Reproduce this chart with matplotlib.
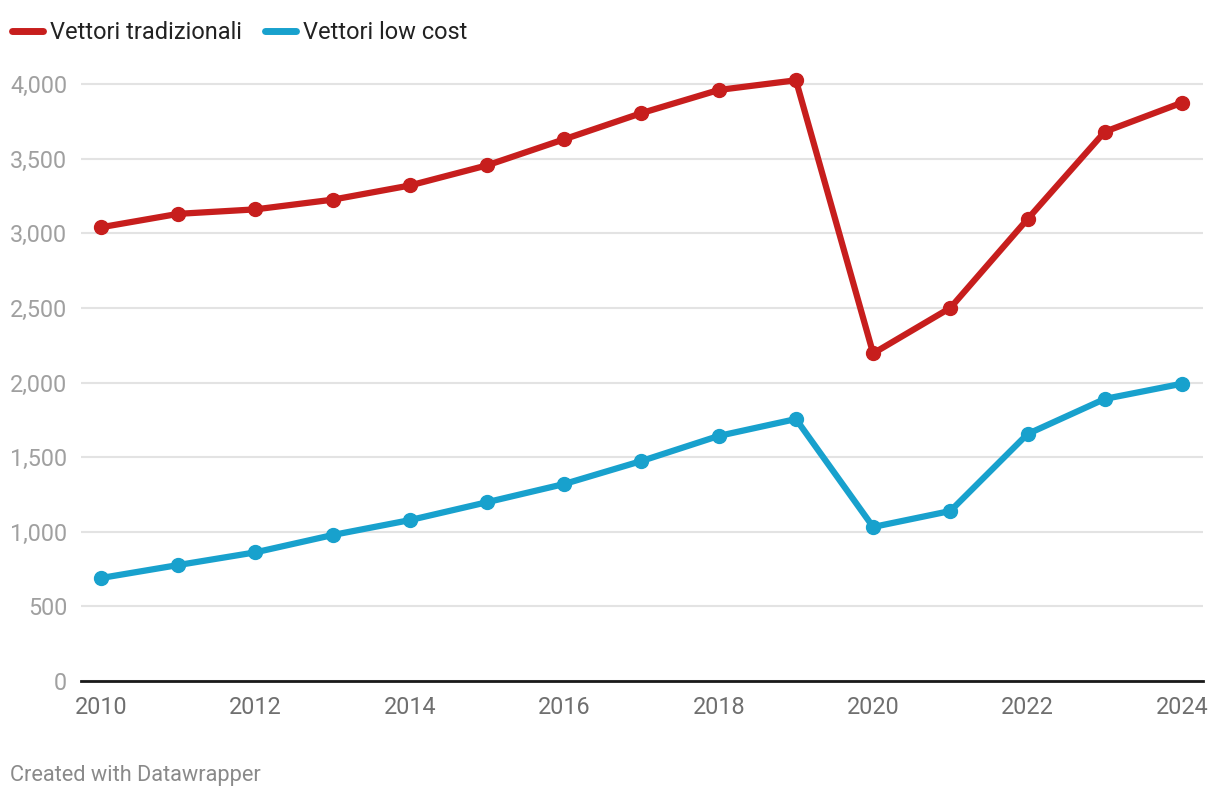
import matplotlib as mpl
import matplotlib.pyplot as plt
from matplotlib.ticker import FuncFormatter

mpl.rcParams['font.family'] = ['Roboto', 'DejaVu Sans']

# dati
anni = [2010, 2011, 2012, 2013, 2014, 2015, 2016, 2017, 2018, 2019, 2020, 2021, 2022, 2023, 2024]
tradizionali = [3040, 3130, 3160, 3225, 3320, 3455, 3630, 3805, 3960, 4025, 2195, 2500, 3095, 3680, 3875]
low_cost = [690, 777, 862, 978, 1078, 1198, 1320, 1474, 1642, 1755, 1032, 1139, 1655, 1890, 1992]
y_ticks = [0, 500, 1000, 1500, 2000, 2500, 3000, 3500, 4000]
x_ticks = [2010, 2012, 2014, 2016, 2018, 2020, 2022, 2024]

rosso = '#c71e1d'
blu = '#18a1cd'

fig = plt.figure(figsize=(12.2, 7.98), dpi=100)
ax = fig.add_axes([81/1220, 117/798, 1122/1220, 621/798])

ax.plot(anni, tradizionali, color=rosso, lw=4.5, marker='o', ms=10,
        label='Vettori tradizionali', solid_capstyle='round', zorder=3)
ax.plot(anni, low_cost, color=blu, lw=4.5, marker='o', ms=10,
        label='Vettori low cost', solid_capstyle='round', zorder=3)

ax.set_xlim(2010 - 20/77.21, 2024 + 21/77.21)
ax.set_ylim(0, 621/0.14925)

ax.set_yticks(y_ticks)
ax.yaxis.set_major_formatter(FuncFormatter(lambda v, p: f'{int(v):,}'))
ax.set_xticks(x_ticks)

ax.grid(axis='y', color='#e3e3e3', lw=1.5, zorder=0)
for s in ['top', 'right', 'left']:
    ax.spines[s].set_visible(False)
ax.spines['bottom'].set_color('#1a1a1a')
ax.spines['bottom'].set_linewidth(2)
ax.spines['bottom'].set_zorder(4)

ax.tick_params(axis='y', length=0, pad=10, labelsize=16.8, labelcolor='#a0a0a0')
ax.tick_params(axis='x', length=0, pad=11, labelsize=16.8, labelcolor='#6f6f6f')

leg = ax.legend(loc='upper left', bbox_to_anchor=(12/1220, 1 - 21/798),
                bbox_transform=fig.transFigure, ncol=2, frameon=False,
                fontsize=17, handlelength=1.3, handletextpad=0.3,
                columnspacing=1.0, borderaxespad=0, borderpad=0)
for h in leg.legend_handles:
    h.set_marker('')
    h.set_linewidth(5)
for t in leg.get_texts():
    t.set_color('#222222')

fig.text(10/1220, 1 - 775/798, 'Created with Datawrapper', fontsize=15.7,
         color='#8a8a8a', va='center', ha='left')

fig.savefig('out.png', dpi=100)
